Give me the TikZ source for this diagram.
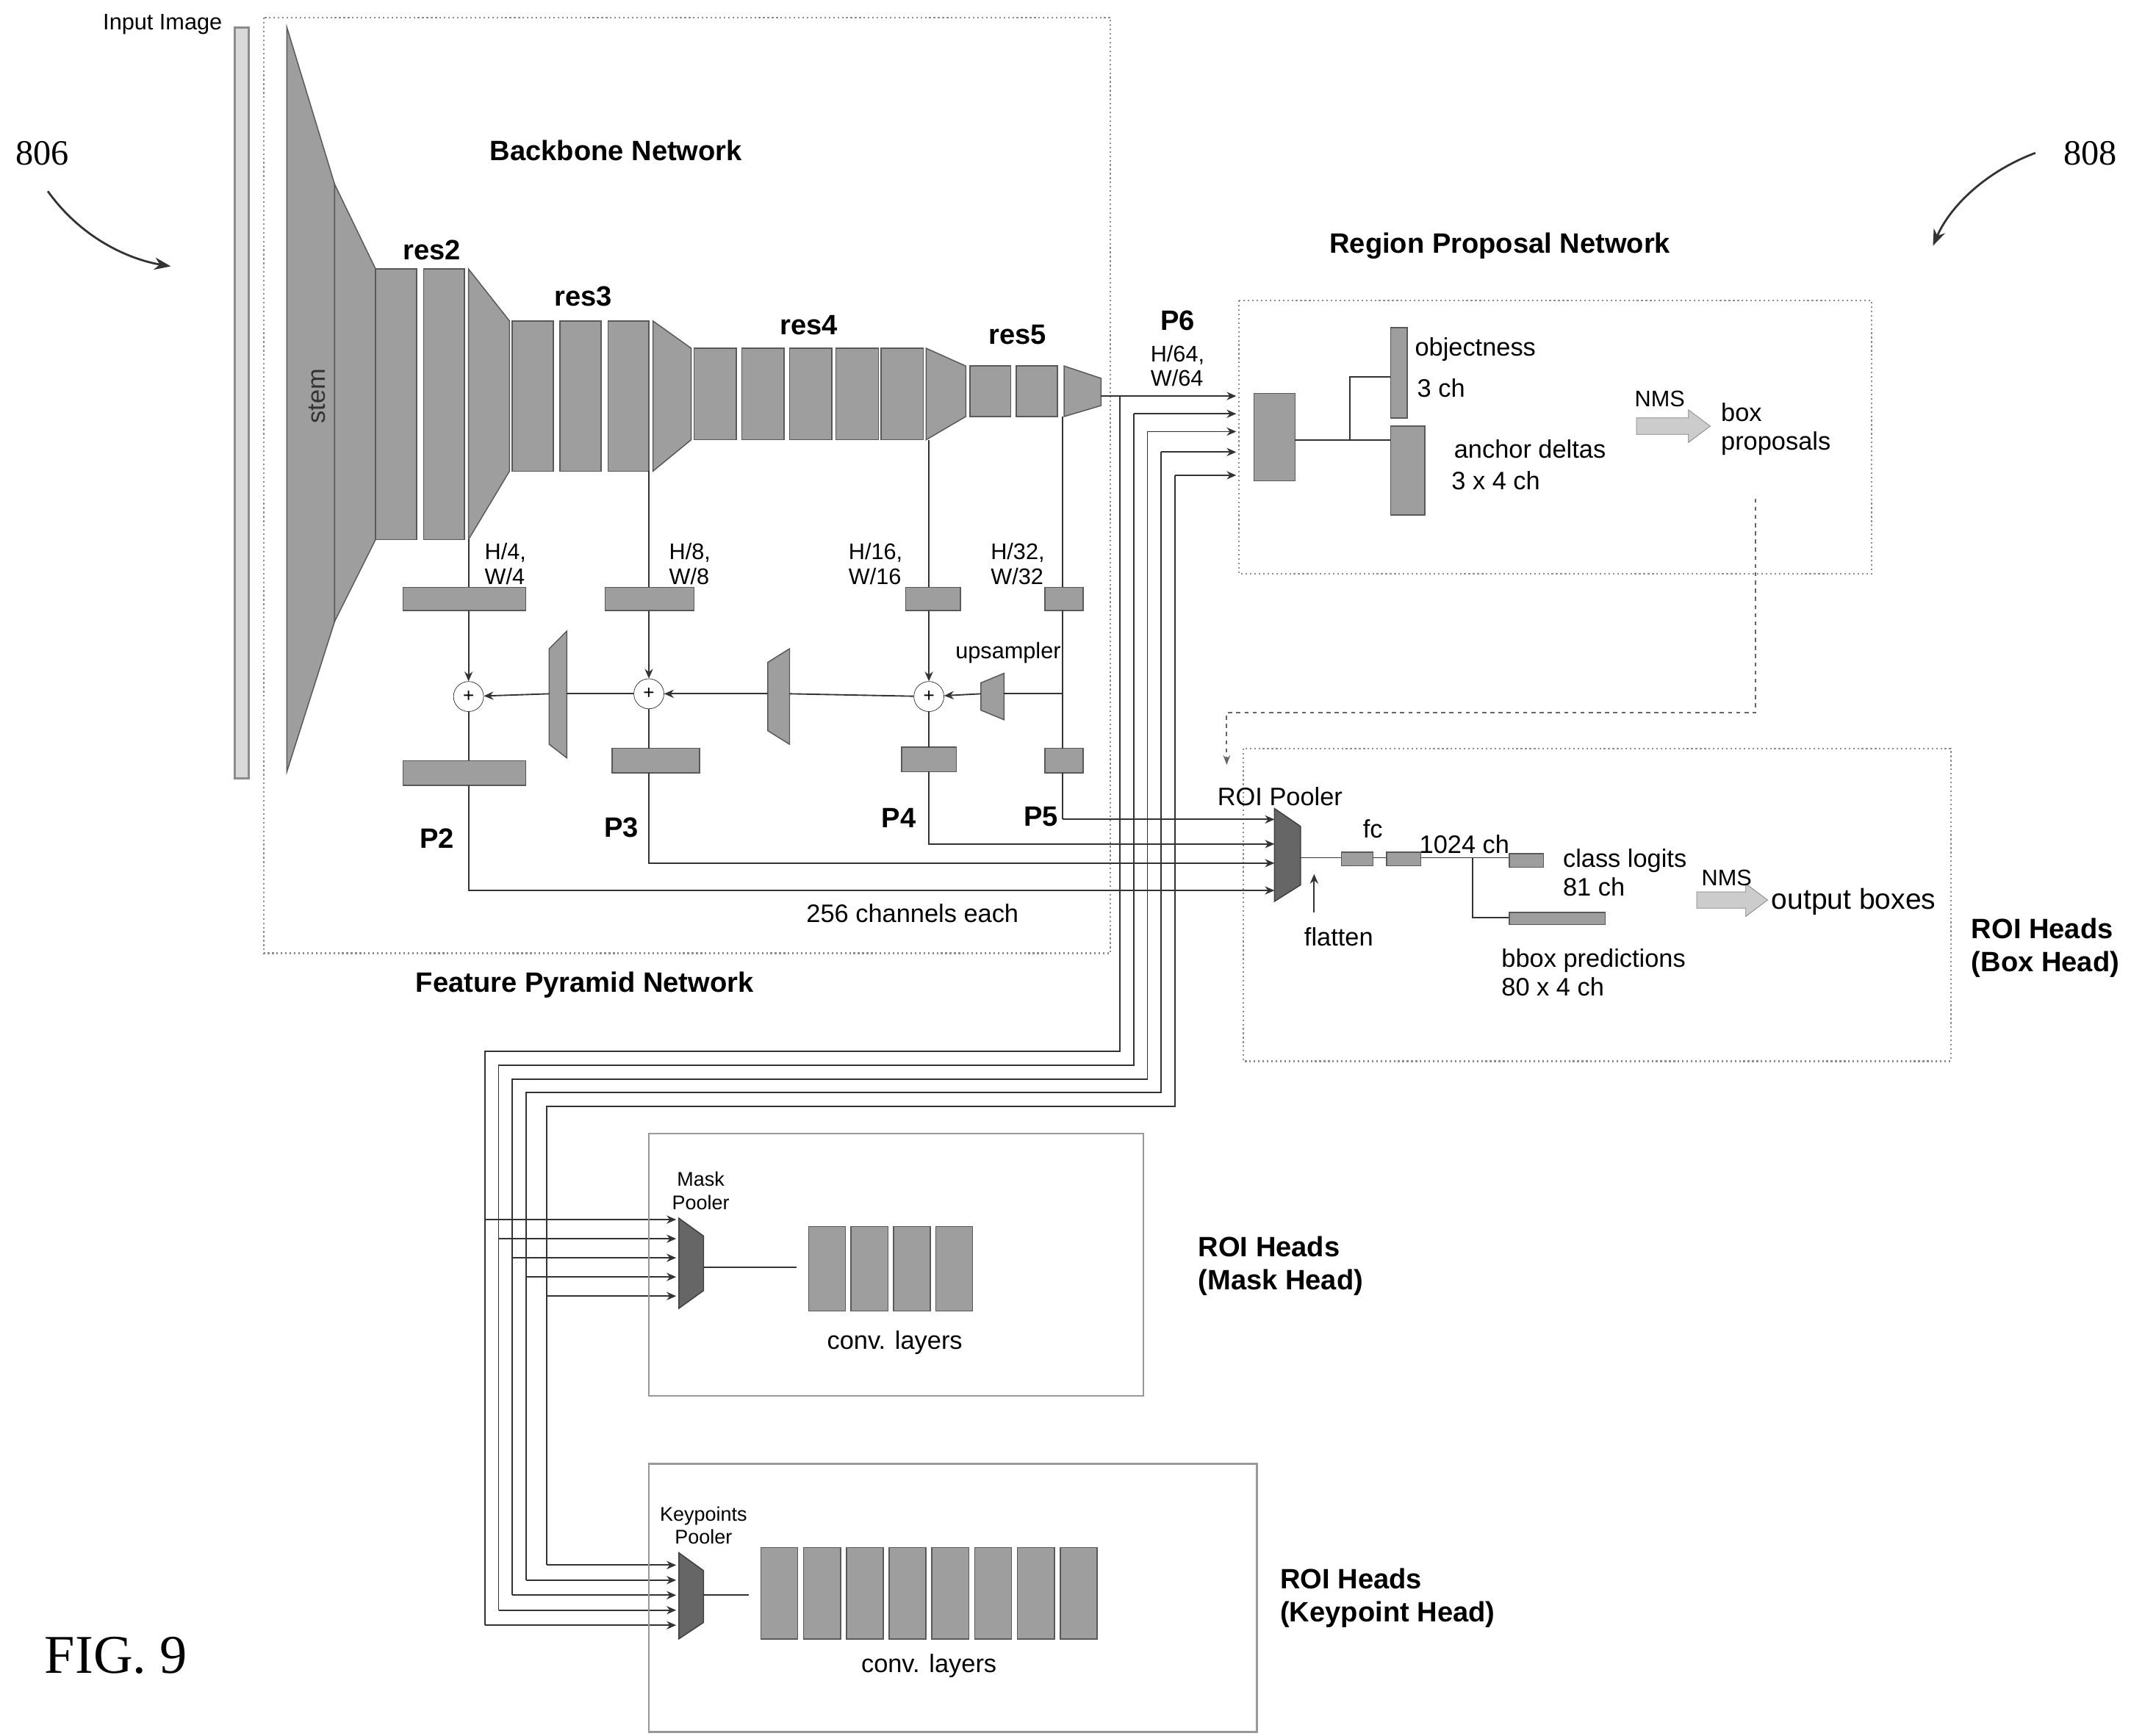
\documentclass[tikz,border=0pt]{standalone}
\usepackage{fontspec}
\setmainfont{Liberation Sans}
\newfontfamily\serifpat{Liberation Serif}
\usetikzlibrary{arrows.meta}
\begin{document}
\begin{tikzpicture}[x=1pt,y=-1pt,
  blk/.style={draw=black!65,fill=black!38,line width=0.8pt},
  dk/.style={draw=black!75,fill=black!60,line width=0.8pt},
  ln/.style={draw=black!80,line width=1pt},
  ar/.style={ln,-{Stealth[length=7pt,width=6pt]}},
  lb/.style={font=\fontsize{18.5}{21}\selectfont,align=left,inner sep=1pt},
  sm/.style={font=\fontsize{16.5}{18}\selectfont,align=left,inner sep=1pt},
  bd/.style={font=\bfseries\fontsize{20.5}{24}\selectfont,align=left,inner sep=1pt},
  bx/.style={draw=black!45,dotted,line width=1.2pt},
  sb/.style={draw=black!40,line width=1.5pt},
  plus/.style={circle,draw=black!80,fill=white,minimum size=22pt,inner sep=0pt,font=\fontsize{14}{14}\selectfont}]
\useasboundingbox (0,0) rectangle (1560,1271);
% patent labels
\node[font=\serifpat\fontsize{26}{28}\selectfont] (n806) at (31,112) {806};
\node[font=\serifpat\fontsize{26}{28}\selectfont] (n808) at (1530,112) {808};
\node[font=\serifpat\fontsize{40}{44}\selectfont] (fig) at (85,1212) {FIG. 9};
\draw[ln,-{Stealth[length=12pt,width=9pt]},line width=1.5pt] (35,140) .. controls (60,175) and (95,190) .. (125,195);
\draw[ln,-{Stealth[length=12pt,width=9pt]},line width=1.5pt] (1490,112) .. controls (1455,125) and (1428,150) .. (1415,180);
% backbone box
\draw[bx] (193,13) rectangle (813,698);
\node[bd] (bbn) at (451,110) {Backbone Network};
\node[bd] (fpn) at (428,721) {Feature Pyramid Network};
\node[sm] (inim) at (119,18) {Input Image};
\draw[sb,fill=black!15,draw=black!45] (172,20) rectangle (182,570);
% stem
\draw[blk] (210,20) -- (245,135) -- (245,455) -- (210,565) -- cycle;
\node[lb,rotate=90,text=black!80] (stem) at (232,290) {stem};
\draw[blk] (245,135) -- (275,197) -- (275,395) -- (245,455) -- cycle;
\foreach \x in {275,310} \draw[blk] (\x,197) rectangle ++(30,198);
\draw[blk] (343,197) -- (373,235) -- (373,345) -- (343,395) -- cycle;
\foreach \x in {375,410,445} \draw[blk] (\x,235) rectangle ++(30,110);
\draw[blk] (478,235) -- (506,255) -- (506,322) -- (478,345) -- cycle;
\foreach \x in {508,543,578,612,645} \draw[blk] (\x,255) rectangle ++(31,67);
\draw[blk] (678,255) -- (707,268) -- (707,305) -- (678,322) -- cycle;
\foreach \x in {710,744} \draw[blk] (\x,268) rectangle ++(30,37);
\draw[blk] (779,268) -- (806,277) -- (806,297) -- (779,305) -- cycle;
\node[bd] (r2) at (316,183) {res2};
\node[bd] (r3) at (427,217) {res3};
\node[bd] (r4) at (592,238) {res4};
\node[bd] (r5) at (745,245) {res5};
% FPN
\node[sm] (s4) at (370,413) {H/4,\\W/4};
\node[sm] (s8) at (505,413) {H/8,\\W/8};
\node[sm] (s16) at (641,413) {H/16,\\W/16};
\node[sm] (s32) at (745,413) {H/32,\\W/32};
\draw[blk] (295,430) rectangle (385,447);
\draw[blk] (443,430) rectangle (508,447);
\draw[blk] (663,430) rectangle (703,447);
\draw[blk] (765,430) rectangle (793,447);
\draw[blk] (295,557) rectangle (385,575);
\draw[blk] (448,548) rectangle (512,566);
\draw[blk] (660,547) rectangle (700,565);
\draw[blk] (765,548) rectangle (793,566);
\draw[ln] (343,395) -- (343,430);
\draw[ln] (475,345) -- (475,430);
\draw[ln] (680,322) -- (680,430);
\draw[ln] (778,305) -- (778,430);
\node[plus] (c2) at (343,510) {+};
\node[plus] (c3) at (475,508) {+};
\node[plus] (c4) at (680,510) {+};
\draw[ar] (343,447) -- (c2);
\draw[ar] (475,447) -- (c3);
\draw[ar] (680,447) -- (c4);
\draw[ln] (778,447) -- (778,548);
\draw[ln] (c2) -- (343,557);
\draw[ln] (c3) -- (475,548);
\draw[ln] (c4) -- (680,547);
\draw[blk] (402,475) -- (415,462) -- (415,555) -- (402,545) -- cycle;
\draw[blk] (562,485) -- (578,475) -- (578,545) -- (562,535) -- cycle;
\draw[blk] (718,500) -- (735,493) -- (735,527) -- (718,520) -- cycle;
\node[sm] (ups) at (738,478) {upsampler};
\draw[ln] (778,508) -- (735,508);
\draw[ar] (718,508) -- (c4);
\draw[ln] (c4) -- (578,508);
\draw[ar] (562,508) -- (c3);
\draw[ln] (c3) -- (415,508);
\draw[ar] (402,508) -- (c2);
\node[bd] (p2) at (320,614) {P2};
\node[bd] (p3) at (455,606) {P3};
\node[bd] (p4) at (658,599) {P4};
\node[bd] (p5) at (762,598) {P5};
\node[lb] (ch256) at (668,669) {256 channels each};
\node[bd] (p6) at (862,235) {P6};
\node[sm] (s64) at (862,268) {H/64,\\W/64};
% RPN
\draw[bx] (907,220) rectangle (1370,420);
\node[bd] (rpnt) at (1098,180) {Region Proposal Network};
\draw[blk] (918,288) rectangle (948,352);
\draw[ln] (948,322) -- (1018,322);
\draw[ln] (988,322) -- (988,276) -- (1018,276);
\draw[blk] (1018,240) rectangle (1030,306);
\draw[blk] (1018,312) rectangle (1043,377);
\node[lb] (obj) at (1080,256) {objectness};
\node[lb] (obj3) at (1055,284) {3 ch};
\node[lb] (anc) at (1120,329) {anchor deltas};
\node[lb] (anc2) at (1095,352) {3 x 4 ch};
\draw[draw=black!50,fill=black!20] (1198,306) -- (1236,306) -- (1236,300) -- (1252,312) -- (1236,324) -- (1236,318) -- (1198,318) -- cycle;
\node[sm] (nms1) at (1215,292) {NMS};
\node[lb] (bp) at (1300,314) {box\\proposals};
\draw[ln,dashed,black!60,-{Stealth[length=7pt]}] (1285,365) -- (1285,522) -- (898,522) -- (898,560);
% buses
\draw[ln] (806,290) -- (820,290);
\foreach \bx/\ty/\by/\X/\k in {820/290/770/355/0,830/303/780/365/1,840/316/790/375/2,850/331/800/385/3,860/348/810/400/4}{
  \draw[ar] (\bx,\ty) -- (905,\ty);
  \draw[ln] (\bx,\ty) -- (\bx,\by) -- (\X,\by) -- (\X,1190-11*\k);
  \draw[ar] (\X,893+14*\k) -- (495,893+14*\k);
  \draw[ar] (\X,1190-11*\k) -- (495,1190-11*\k);
}
% box head
\draw[bx] (910,548) rectangle (1428,777);
\node[lb] (roip) at (937,583) {ROI Pooler};
\draw[ln] (778,566) -- (778,600);
\draw[ar] (778,600) -- (933,600);
\draw[ar] (680,565) -- (680,618) -- (933,618);
\draw[ar] (475,566) -- (475,632) -- (933,632);
\draw[ar] (343,575) -- (343,652) -- (933,652);
\draw[dk] (933,592) -- (952,605) -- (952,648) -- (933,660) -- cycle;
\draw[ln] (952,628) -- (982,628);
\draw[ar] (962,668) -- (962,640);
\node[lb] (flat) at (980,686) {flatten};
\draw[blk] (982,624) rectangle (1005,634);
\draw[ln] (1005,628) -- (1015,628);
\draw[blk] (1015,624) rectangle (1040,634);
\node[lb] (fc) at (1005,607) {fc};
\node[lb] (c1024) at (1072,618) {1024 ch};
\draw[ln] (1040,628) -- (1105,628);
\draw[ln] (1078,628) -- (1078,672) -- (1105,672);
\draw[blk] (1105,625) rectangle (1130,635);
\draw[blk] (1105,668) rectangle (1175,677);
\node[lb] (cl) at (1143,639) [anchor=west] {class logits\\81 ch};
\node[lb] (bb) at (1098,712) [anchor=west] {bbox predictions\\80 x 4 ch};
\draw[draw=black!50,fill=black!20] (1242,653) -- (1278,653) -- (1278,647) -- (1294,659) -- (1278,671) -- (1278,665) -- (1242,665) -- cycle;
\node[sm] (nms2) at (1264,643) {NMS};
\node[font=\fontsize{21}{23}\selectfont] (ob) at (1357,660) {output boxes};
\node[bd,anchor=west] (rbh) at (1442,694) {ROI Heads\\(Box Head)};
% mask head
\draw[sb] (475,830) rectangle (837,1022);
\node[font=\fontsize{14.5}{17}\selectfont,align=center] (mp) at (513,872) {Mask\\Pooler};
\draw[dk] (497,892) -- (515,905) -- (515,945) -- (497,958) -- cycle;
\draw[ln] (515,928) -- (583,928);
\foreach \x in {592,623,654,685} \draw[blk] (\x,898) rectangle ++(27,62);
\node[lb] (cl1) at (655,983) {conv. layers};
\node[bd,anchor=west] (rmh) at (876,927) {ROI Heads\\(Mask Head)};
% keypoint head
\draw[sb] (475,1072) rectangle (920,1268);
\node[font=\fontsize{14.5}{17}\selectfont,align=center] (kp) at (515,1117) {Keypoints\\Pooler};
\draw[dk] (497,1137) -- (515,1150) -- (515,1188) -- (497,1200) -- cycle;
\draw[ln] (515,1168) -- (548,1168);
\foreach \i in {0,...,7} \draw[blk] (557+31.3*\i,1133) rectangle ++(27,67);
\node[lb] (cl2) at (680,1220) {conv. layers};
\node[bd,anchor=west] (rkh) at (936,1170) {ROI Heads\\(Keypoint Head)};
\end{tikzpicture}
\end{document}
